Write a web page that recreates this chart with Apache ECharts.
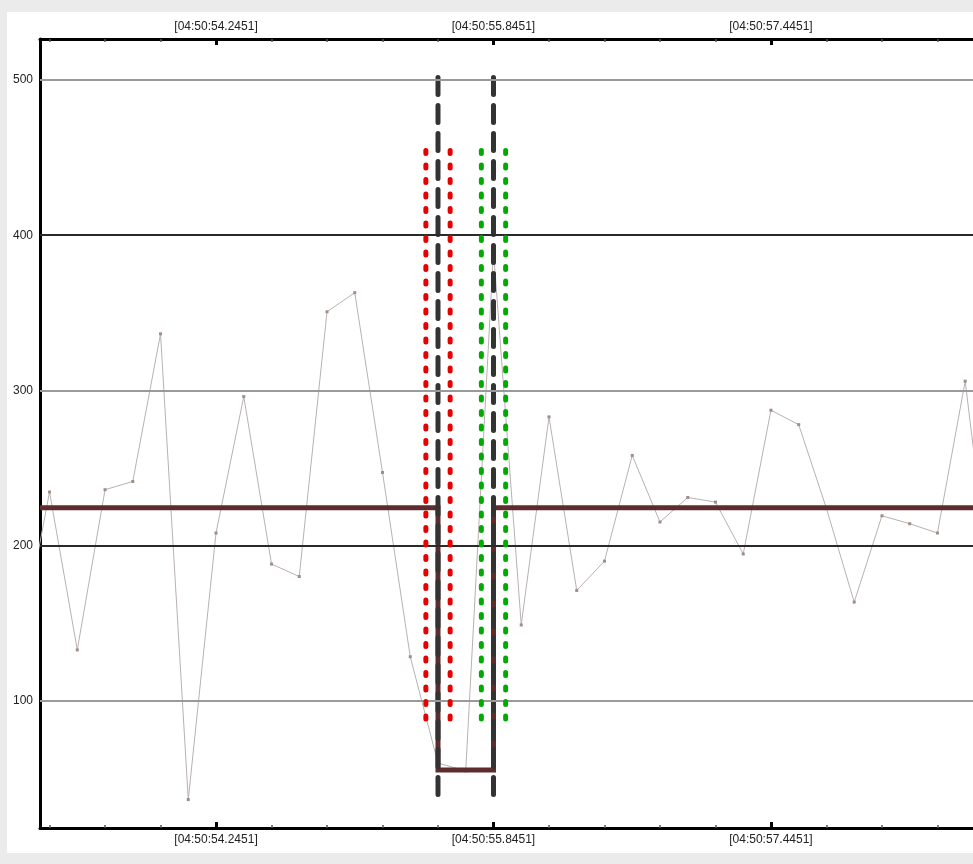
<!DOCTYPE html>
<html>
<head>
<meta charset="utf-8">
<script src="https://cdn.jsdelivr.net/npm/echarts@6/dist/echarts.min.js"></script>
<style>
  html, body { margin: 0; padding: 0; background: #ebebeb; width: 973px; height: 864px; overflow: hidden; }
  #panel { position: absolute; left: 7px; top: 12px; width: 966px; height: 841px; background: #ffffff; }
  #chart { position: absolute; left: 0; top: 0; width: 973px; height: 864px; }
</style>
</head>
<body>
<div id="panel"></div>
<div id="chart"></div>
<script>
// ---- data (x in ms after 04:50:51.0451) ----
const timeOriginSec = 51.0451;
const sampleTimes = [2080, 2240, 2400, 2560, 2720, 2880, 3040, 3200, 3360, 3520, 3680, 3840, 4000, 4160,
  4320, 4480, 4640, 4800, 4960, 5120, 5280, 5440, 5600, 5760, 5920, 6080, 6240, 6400, 6560, 6720,
  6880, 7040, 7200, 7360, 7520, 7680];
const sampleValues = [140, 234.6, 132.9, 236.1, 241.4, 336.5, 36.5, 208.2, 296.1, 188.2, 180.2, 350.7, 363, 247.2,
  128.5, 60, 55, 390, 149, 283, 171.2, 190.1, 258.2, 215.3, 231.1, 228.1, 194.7, 287.3, 278, 224,
  163.7, 219.3, 214.2, 208.2, 306, 159];
const stepX = [2185, 4480, 4480, 4800, 4800, 7565];
const stepY = [224.5, 224.5, 55.6, 55.6, 224.5, 224.5];
const cursorX = [4480, 4800];
const cursorY = [501.6, 36.6];
const redX = [4410, 4550];
const greenX = [4730, 4870];
const bandY = [454.6, 84.2];
const yTicks = [100, 200, 300, 400, 500];
const xMinorTicks = [2240, 2560, 2880, 3200, 3520, 3840, 4160, 4480, 4800, 5120, 5440, 5760, 6080, 6400, 6720, 7040, 7360];
const xMajorTicks = [3200, 4800, 6400];
const xRange = [2185, 7565];
const yRange = [18.2, 526.4];

// ---- chart ----
const chart = echarts.init(document.getElementById('chart'), null, { renderer: 'canvas' });
const font = 'Liberation Sans';
const fmt = v => '[04:50:' + (timeOriginSec + v / 1000).toFixed(4) + ']';

function xAx(pos, major) {
  return {
    type: 'value', position: pos, min: xRange[0], max: xRange[1],
    axisLine: { show: !major, onZero: false, lineStyle: { color: '#000', width: 3 } },
    axisTick: major
      ? { show: true, inside: true, customValues: xMajorTicks, length: 6, lineStyle: { color: '#000', width: 3 } }
      : { show: true, inside: true, customValues: xMinorTicks, length: 3, lineStyle: { color: '#555', width: 1.5 } },
    axisLabel: major
      ? { show: true, customValues: xMajorTicks, formatter: fmt, fontFamily: font, fontSize: 12, color: '#222', margin: 6 }
      : { show: false },
    splitLine: { show: false }
  };
}

const gridColors = { 100: '#9a9a9a', 200: '#2a2a2a', 300: '#9a9a9a', 400: '#2a2a2a', 500: '#9a9a9a' };

function vline(x, yr, color, dash, z) {
  return {
    type: 'line', xAxisIndex: 0, yAxisIndex: 0, z: z, silent: true, symbol: 'none',
    data: [[x, yr[0]], [x, yr[1]]],
    lineStyle: { color: color, width: 5, type: dash, cap: 'round' }
  };
}

const series = [
  {
    type: 'line', xAxisIndex: 0, yAxisIndex: 0, z: 1, silent: true, symbol: 'none', data: [],
    markLine: {
      silent: true, symbol: 'none', label: { show: false }, animation: false,
      data: yTicks.map(v => ({ yAxis: v, lineStyle: { color: gridColors[v], width: 2, type: 'solid' } }))
    }
  },
  {
    type: 'line', xAxisIndex: 0, yAxisIndex: 0, z: 2, silent: true,
    data: sampleTimes.map((t, i) => [t, sampleValues[i]]),
    symbol: 'rect', symbolSize: 3, showSymbol: true,
    itemStyle: { color: '#a08d86' },
    lineStyle: { color: '#b8b1b1', width: 1 }
  },
  {
    type: 'line', xAxisIndex: 0, yAxisIndex: 0, z: 3, silent: true, symbol: 'none',
    data: stepX.map((x, i) => [x, stepY[i]]),
    lineStyle: { color: '#5e2c2c', width: 5, join: 'miter' }
  },
  vline(cursorX[0], cursorY, '#333333', [17, 11], 4),
  vline(cursorX[1], cursorY, '#333333', [17, 11], 4),
  vline(redX[0], bandY, '#e60000', [3, 11.5], 5),
  vline(redX[1], bandY, '#e60000', [3, 11.5], 5),
  vline(greenX[0], bandY, '#00aa00', [3, 11.5], 5),
  vline(greenX[1], bandY, '#00aa00', [3, 11.5], 5)
];

chart.setOption({
  animation: false,
  backgroundColor: 'transparent',
  grid: { left: 40, top: 39, right: 0, bottom: 36, containLabel: false },
  xAxis: [xAx('bottom', false), xAx('bottom', true), xAx('top', false), xAx('top', true)],
  yAxis: {
    type: 'value', position: 'left', min: yRange[0], max: yRange[1],
    axisLine: { show: true, onZero: false, lineStyle: { color: '#000', width: 3 } },
    axisTick: { show: false },
    axisLabel: { show: true, customValues: yTicks, fontFamily: font, fontSize: 12, color: '#222', margin: 7 },
    splitLine: { show: false }
  },
  series: series
});
</script>
</body>
</html>
